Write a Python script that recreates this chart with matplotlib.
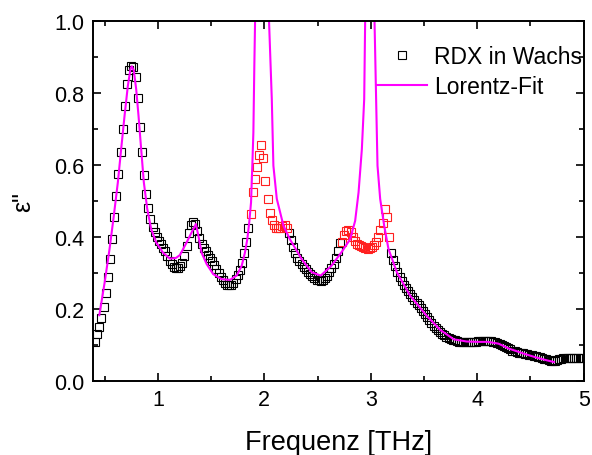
import numpy as np
import matplotlib
matplotlib.use('Agg')
import matplotlib.pyplot as plt
from matplotlib.ticker import MultipleLocator

plt.rcParams['font.family'] = ['Liberation Sans', 'DejaVu Sans']

# Messwerte: eps'' auf einem Raster von 0.41 THz in Schritten von 0.02 THz
f_start = 0.41
f_step = 0.02
eps_data = [
    0.110, 0.130, 0.150, 0.175, 0.205, 0.245, 0.290, 0.340, 0.395, 0.455,
    0.515, 0.575, 0.635, 0.700, 0.765, 0.825, 0.863, 0.874, 0.873, 0.845,
    0.785, 0.705, 0.635, 0.572, 0.520, 0.480, 0.450, 0.428, 0.414, 0.400,
    0.390, 0.380, 0.369, 0.360, 0.347, 0.334, 0.324, 0.318, 0.314, 0.314,
    0.320, 0.329, 0.348, 0.375, 0.410, 0.434, 0.441, 0.437, 0.418, 0.397,
    0.380, 0.369, 0.360, 0.351, 0.342, 0.334, 0.323, 0.312, 0.301, 0.290,
    0.280, 0.273, 0.268, 0.267, 0.268, 0.273, 0.283, 0.295, 0.309, 0.328,
    0.355, 0.387, 0.425, 0.465, 0.525, 0.560, 0.595, 0.628, 0.655, 0.620,
    0.555, 0.505, 0.468, 0.446, 0.433, 0.426, 0.424, 0.425, 0.430, 0.433,
    0.424, 0.410, 0.392, 0.372, 0.355, 0.343, 0.333, 0.325, 0.318, 0.310,
    0.303, 0.297, 0.292, 0.286, 0.282, 0.280, 0.279, 0.280, 0.285, 0.293,
    0.303, 0.313, 0.325, 0.343, 0.362, 0.383, 0.385, 0.405, 0.418, 0.420,
    0.415, 0.400, 0.388, 0.380, 0.377, 0.374, 0.371, 0.369, 0.368, 0.369,
    0.372, 0.378, 0.386, 0.400, 0.420, 0.440, 0.478, 0.455, 0.400, 0.355,
    0.337, 0.320, 0.304, 0.290, 0.278, 0.268, 0.258, 0.249, 0.241, 0.233,
    0.226, 0.218, 0.211, 0.204, 0.195, 0.186, 0.177, 0.169, 0.161, 0.154,
    0.148, 0.142, 0.137, 0.132, 0.127, 0.123, 0.120, 0.117, 0.115, 0.113,
    0.111, 0.110, 0.109, 0.109, 0.109, 0.109, 0.109, 0.109, 0.110, 0.110,
    0.111, 0.111, 0.112, 0.112, 0.112, 0.112, 0.111, 0.110, 0.108, 0.106,
    0.103, 0.100, 0.097, 0.094, 0.091, 0.088, 0.085, 0.083, 0.081, 0.079,
    0.078, 0.077, 0.076, 0.075, 0.073, 0.072, 0.071, 0.069, 0.068, 0.066,
    0.064, 0.062, 0.061, 0.059, 0.057, 0.056, 0.057, 0.059, 0.061, 0.062,
    0.063, 0.063, 0.063, 0.063, 0.063, 0.063, 0.063, 0.063, 0.063, 0.063,
]
# Bereiche, die rot markiert sind (THz)
red_ranges = [(1.86, 2.22), (2.72, 3.18)]

# Lorentz-Fit
fit_f = [0.45, 0.50, 0.546, 0.586, 0.624, 0.655, 0.687, 0.718, 0.743, 0.755,
         0.774, 0.796, 0.818, 0.843, 0.868, 0.90, 0.937, 0.984, 1.047, 1.113,
         1.17, 1.207, 1.27, 1.317, 1.357, 1.38, 1.41, 1.458, 1.52, 1.60,
         1.677, 1.74, 1.787, 1.818, 1.84, 1.858, 1.875, 1.887, 1.897, 1.906,
         1.913, 1.925, 2.03, 2.044, 2.07, 2.085, 2.117, 2.18, 2.24, 2.35,
         2.446, 2.53, 2.63, 2.73, 2.806, 2.853, 2.885, 2.916, 2.938, 2.947,
         2.96, 3.02, 3.035, 3.05, 3.063, 3.088, 3.126, 3.166, 3.245, 3.37,
         3.526, 3.653, 3.78, 3.90, 4.0, 4.10, 4.2, 4.3, 4.45, 4.55,
         4.65, 4.72]
fit_eps = [0.183, 0.274, 0.367, 0.459, 0.552, 0.644, 0.737, 0.820, 0.867, 0.874,
           0.862, 0.811, 0.737, 0.644, 0.552, 0.478, 0.422, 0.385, 0.357, 0.340,
           0.342, 0.350, 0.385, 0.413, 0.436, 0.404, 0.357, 0.325, 0.297, 0.283,
           0.281, 0.293, 0.320, 0.357, 0.394, 0.440, 0.496, 0.598, 0.690, 0.876,
           1.0, 1.3, 1.3, 1.0, 0.783, 0.598, 0.506, 0.431, 0.394, 0.339,
           0.302, 0.293, 0.320, 0.360, 0.394, 0.445, 0.524, 0.644, 0.783, 1.0,
           1.3, 1.3, 1.0, 0.783, 0.598, 0.506, 0.431, 0.367, 0.302, 0.237,
           0.181, 0.142, 0.116, 0.110, 0.109, 0.109, 0.104, 0.090, 0.075, 0.066,
           0.058, 0.053]

freq = f_start + f_step * np.arange(len(eps_data))
eps = np.array(eps_data)
is_red = np.zeros(len(freq), dtype=bool)
for lo, hi in red_ranges:
    is_red |= (freq >= lo) & (freq <= hi)

fig = plt.figure(figsize=(5.92, 4.56), dpi=100)
ax = fig.add_axes([0.157, 0.162, 0.829, 0.790])

ax.plot(freq[~is_red], eps[~is_red], 's', mfc='none', mec='black', ms=5.5, mew=0.8,
        label='RDX in Wachs')
ax.plot(freq[is_red], eps[is_red], 's', mfc='none', mec='#ff2020', ms=5.5, mew=0.8)
ax.plot(fit_f, fit_eps, color='#ff00ff', lw=1.5, label='Lorentz-Fit')

ax.set_xlim(0.39, 5.0)
ax.set_ylim(0, 1.0)
ax.xaxis.set_minor_locator(MultipleLocator(0.5))
ax.yaxis.set_minor_locator(MultipleLocator(0.1))
ax.set_yticks([0.0, 0.2, 0.4, 0.6, 0.8, 1.0])
ax.set_yticklabels(['0.0', '0.2', '0.4', '0.6', '0.8', '1.0'])
ax.set_xticks([1, 2, 3, 4, 5])
ax.set_xticklabels(['1', '2', '3', '4', '5'])
ax.tick_params(which='both', direction='in', top=True, right=True, width=1.2,
               labelsize=15.5, pad=6)
ax.tick_params(which='major', length=6)
ax.tick_params(which='minor', length=3.5)
for s in ax.spines.values():
    s.set_linewidth(1.4)

ax.set_xlabel('Frequenz [THz]', fontsize=19.5, labelpad=13)
ax.set_ylabel('ε"', fontsize=18, labelpad=14)

ax.legend(loc='upper right', frameon=False, fontsize=16.5, handlelength=2.2,
          handletextpad=0.3, labelspacing=0.28, borderaxespad=0.2,
          bbox_to_anchor=(1.025, 0.97))

fig.savefig('out.png', dpi=100)
